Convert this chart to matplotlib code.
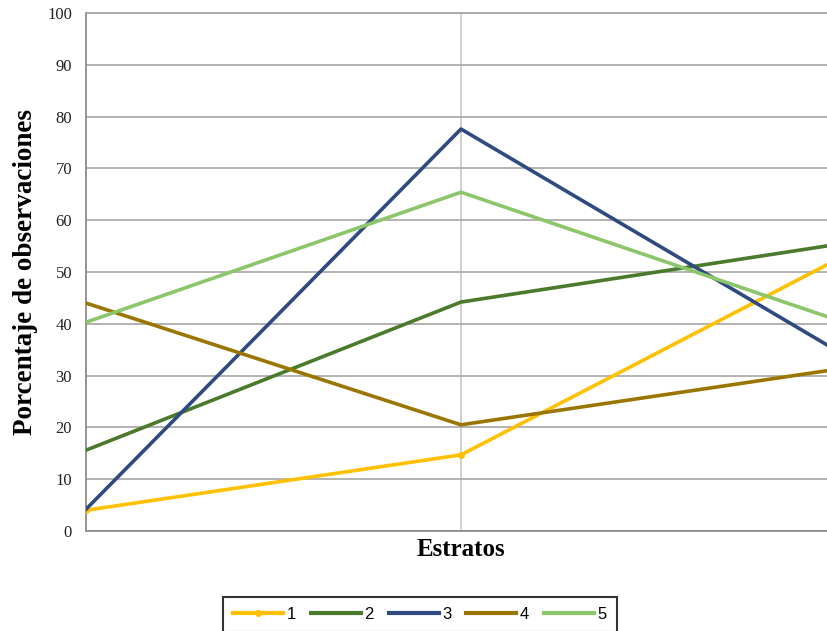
import matplotlib
matplotlib.use("Agg")
from matplotlib import pyplot as plt

estratos = [0, 1, 2]
serie_1 = [4.0, 14.7, 52.3]
serie_2 = [15.6, 44.2, 55.3]
serie_3 = [4.2, 77.6, 34.9]
serie_4 = [44.0, 20.5, 31.2]
serie_5 = [40.3, 65.4, 40.8]
nombres = ["1", "2", "3", "4", "5"]
colores = ["#FFC000", "#4A7A2C", "#2E4A80", "#9A7600", "#8CC66A"]

fig = plt.figure(figsize=(8.27, 6.31), dpi=100)
# plot area runs past the right edge of the figure
ax = fig.add_axes([86 / 827, 100 / 631, 750 / 827, 518 / 631])

series = [serie_1, serie_2, serie_3, serie_4, serie_5]
for i, valores in enumerate(series):
    if i == 0:
        ax.plot(estratos, valores, color=colores[i], lw=2.6, marker="o", ms=4,
                label=nombres[i], zorder=3)
    else:
        ax.plot(estratos, valores, color=colores[i], lw=2.6, label=nombres[i], zorder=3)

ax.set_xlim(0, 2)
ax.set_ylim(0, 100)
ax.set_yticks(range(0, 101, 10))
ax.set_xticks([1])
ax.set_xticklabels([])
ax.tick_params(axis="x", length=0)
ax.tick_params(axis="y", length=0, pad=10)
for lbl in ax.get_yticklabels():
    lbl.set_fontfamily("Liberation Serif")
    lbl.set_fontsize(12)
    lbl.set_color("#222222")

ax.grid(axis="y", color="#a6a6a6", lw=1.2)
ax.grid(axis="x", color="#c8c8c8", lw=1.2)
ax.set_axisbelow(True)
for side in ["left", "bottom", "top"]:
    ax.spines[side].set_color("#8c8c8c")
    ax.spines[side].set_linewidth(1.3)
ax.spines["top"].set_color("#a6a6a6")
ax.spines["right"].set_visible(False)

ax.set_xlabel("Estratos", fontfamily="Liberation Serif", fontweight="bold",
              fontsize=18)
ax.xaxis.set_label_coords(461 / 827, 1 - 538 / 631, transform=fig.transFigure)
ax.xaxis.label.set_va("top")
ax.set_ylabel("Porcentaje de observaciones", fontfamily="Liberation Serif",
              fontweight="bold", fontsize=19.5)
ax.yaxis.set_label_coords(38 / 827, 1 - 272 / 631, transform=fig.transFigure)

leg = fig.legend(loc="lower center", ncol=5, bbox_to_anchor=(420 / 827, -0.014),
                 frameon=True, fancybox=False, edgecolor="black",
                 prop={"family": "Liberation Sans", "size": 12},
                 handlelength=3.0, handletextpad=0.2, columnspacing=0.9,
                 borderpad=0.6)
leg.get_frame().set_linewidth(1.5)
for h in leg.get_lines():
    h.set_linewidth(3)

fig.savefig("out.png", dpi=100)
